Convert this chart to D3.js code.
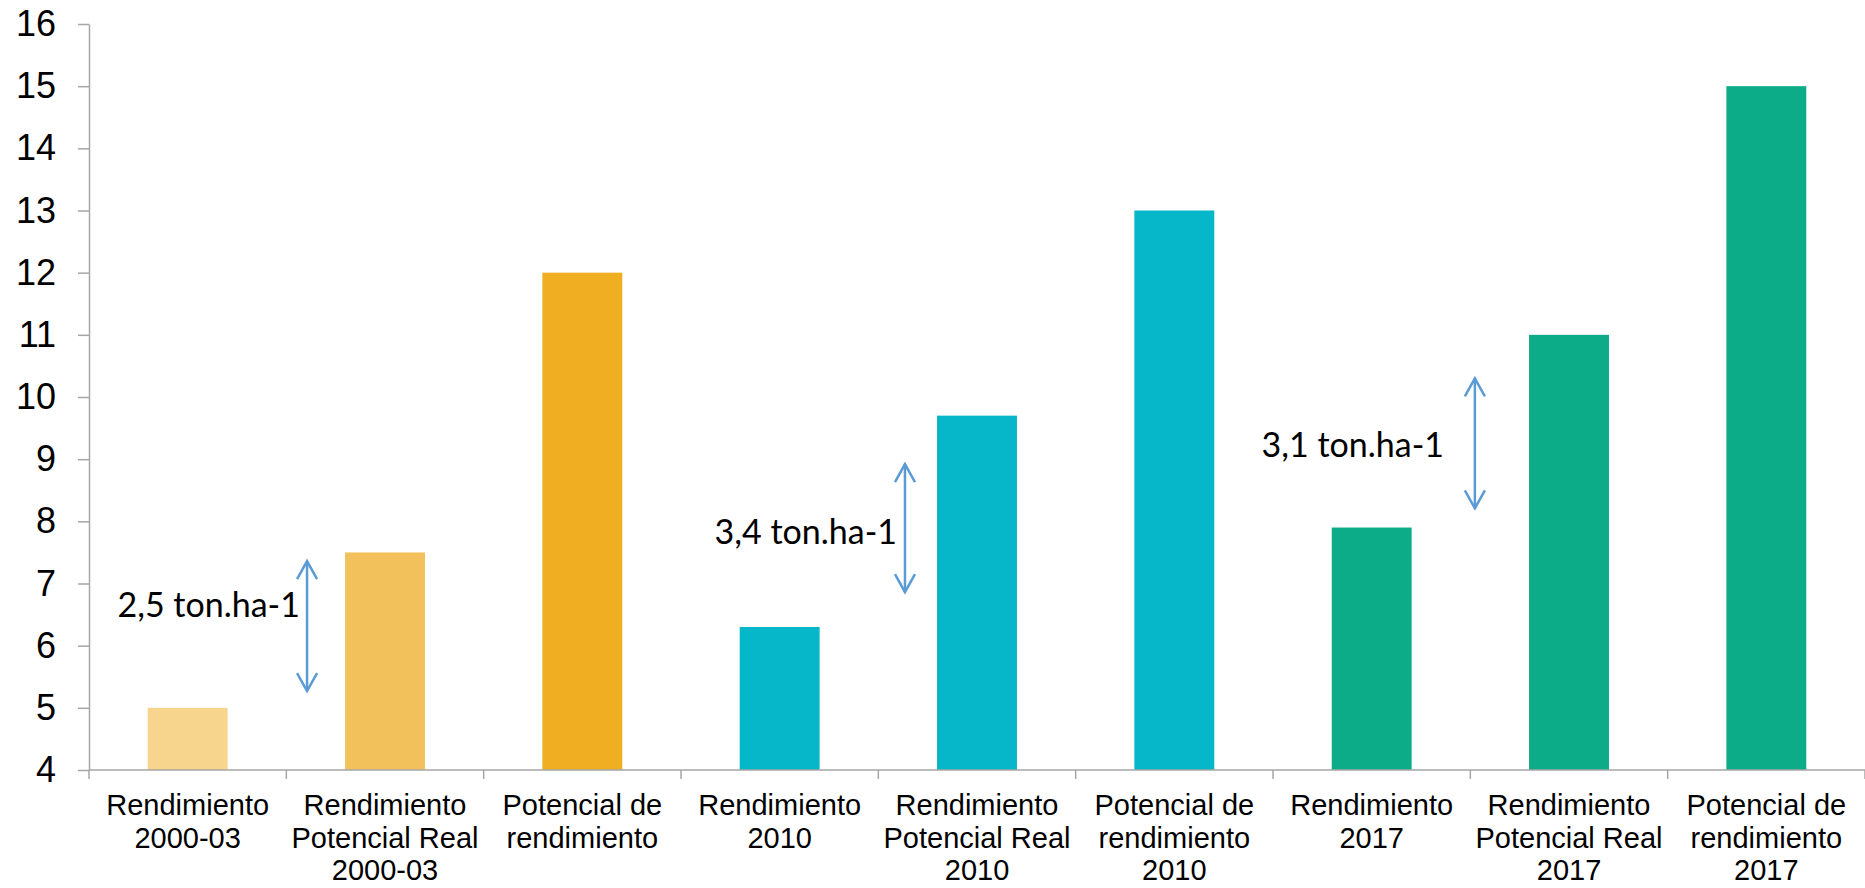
<!DOCTYPE html>
<html>
<head>
<meta charset="utf-8">
<script src="https://cdn.jsdelivr.net/npm/d3@7"></script>
<style>
  body { margin: 0; background: #fff; }
  svg { display: block; }
</style>
</head>
<body>
<div id="chart"></div>
<script>

// categories, split into label lines
var categories = [
	["Rendimiento", "2000-03"],
	["Rendimiento", "Potencial Real", "2000-03"],
	["Potencial de", "rendimiento"],
	["Rendimiento", "2010"],
	["Rendimiento", "Potencial Real", "2010"],
	["Potencial de", "rendimiento", "2010"],
	["Rendimiento", "2017"],
	["Rendimiento", "Potencial Real", "2017"],
	["Potencial de", "rendimiento", "2017"]
];

// ton/ha
var values = [5.0, 7.5, 12.0, 6.3, 9.7, 13.0, 7.9, 11.0, 15.0];

var barColors = ["#F7D58D", "#F3C15B", "#F0AE22",
                 "#06B6C9", "#06B6C9", "#06B6C9",
                 "#0DAC88", "#0DAC88", "#0DAC88"];

var yTicks = [4, 5, 6, 7, 8, 9, 10, 11, 12, 13, 14, 15, 16];

// gap annotations: text, arrow from/to (values), arrow position (band units), text end (band units), text baseline (value)
var gapLabels = ["2,5 ton.ha-1", "3,4 ton.ha-1", "3,1 ton.ha-1"];
var gapFrom   = [5.27, 6.86, 8.21];
var gapTo     = [7.36, 8.92, 10.30];
var gapPos    = [1.105, 4.135, 7.023];
var gapTextAt = [1.069, 4.095, 6.867];
var gapTextY  = [6.46, 7.64, 9.03];

var chartW = 1865,
	chartH = 888,
	padLeft = 89,
	padTop = 24,
	padBottom = 770;

var svg = d3.select("#chart").append("svg")
	.attr("width", chartW)
	.attr("height", chartH);

var x = d3.scaleBand()
	.domain(d3.range(categories.length))
	.range([padLeft, chartW]);

var bandPos = d3.scaleLinear()
	.domain([0, categories.length])
	.range([padLeft, chartW]);

var y = d3.scaleLinear()
	.domain([4, 16])
	.range([padBottom, padTop]);

var barW = x.bandwidth() * 0.405;

// bars
svg.selectAll("rect.bar")
	.data(values)
  .enter().append("rect")
	.attr("class", "bar")
	.attr("x", function(d, i) { return x(i) + (x.bandwidth() - barW) / 2; })
	.attr("y", function(d) { return y(d); })
	.attr("width", barW)
	.attr("height", function(d) { return y(4) - y(d); })
	.style("fill", function(d, i) { return barColors[i]; });

// y axis
var yAxis = svg.append("g")
	.attr("transform", "translate(" + padLeft + ",0)")
	.call(d3.axisLeft(y).tickValues(yTicks).tickSize(11).tickPadding(22).tickSizeOuter(0));

yAxis.select(".domain").attr("stroke", "#A6A6A6").attr("stroke-width", 1.5);
yAxis.selectAll(".tick line").attr("stroke", "#A6A6A6").attr("stroke-width", 1.5);
yAxis.selectAll(".tick text")
	.style("font-family", "'Liberation Sans', Arial, sans-serif")
	.style("font-size", "36px")
	.attr("fill", "#000");

// x axis line and band ticks
svg.append("line")
	.attr("x1", padLeft).attr("x2", chartW)
	.attr("y1", y(4)).attr("y2", y(4))
	.attr("stroke", "#A6A6A6").attr("stroke-width", 1.5);

svg.selectAll("line.xtick")
	.data(d3.range(categories.length + 1))
  .enter().append("line")
	.attr("class", "xtick")
	.attr("x1", function(d) { return bandPos(d); })
	.attr("x2", function(d) { return bandPos(d); })
	.attr("y1", y(4))
	.attr("y2", y(4) + 9)
	.attr("stroke", "#A6A6A6").attr("stroke-width", 1.5);

// category labels
var catText = svg.selectAll("text.cat")
	.data(categories)
  .enter().append("text")
	.attr("class", "cat")
	.attr("text-anchor", "middle")
	.style("font-family", "'Liberation Sans', Arial, sans-serif")
	.style("font-size", "29px")
	.attr("fill", "#000")
	.attr("transform", function(d, i) { return "translate(" + (x(i) + x.bandwidth() / 2) + "," + (y(4) + 45) + ")"; });

catText.selectAll("tspan")
	.data(function(d) { return d; })
  .enter().append("tspan")
	.attr("x", 0)
	.attr("y", function(d, j) { return j * 32.5; })
	.text(function(d) { return d; });

// gap arrows
var arrowColor = "#5B9BD5";
var gaps = svg.selectAll("g.gap")
	.data(gapLabels)
  .enter().append("g")
	.attr("class", "gap");

gaps.append("line")
	.attr("x1", function(d, i) { return bandPos(gapPos[i]); })
	.attr("x2", function(d, i) { return bandPos(gapPos[i]); })
	.attr("y1", function(d, i) { return y(gapTo[i]); })
	.attr("y2", function(d, i) { return y(gapFrom[i]); })
	.attr("stroke", arrowColor)
	.attr("stroke-width", 2.5);

gaps.append("path")
	.attr("d", function(d, i) {
		var cx = bandPos(gapPos[i]), t = y(gapTo[i]), b = y(gapFrom[i]);
		return "M" + (cx - 10) + "," + (t + 18) + "L" + cx + "," + t + "L" + (cx + 10) + "," + (t + 18) +
			"M" + (cx - 10) + "," + (b - 18) + "L" + cx + "," + b + "L" + (cx + 10) + "," + (b - 18);
	})
	.attr("fill", "none")
	.attr("stroke", arrowColor)
	.attr("stroke-width", 2.5);

gaps.append("text")
	.attr("x", function(d, i) { return bandPos(gapTextAt[i]); })
	.attr("y", function(d, i) { return y(gapTextY[i]); })
	.attr("text-anchor", "end")
	.style("font-family", "Lato, 'Open Sans', sans-serif")
	.style("font-size", "34px")
	.attr("fill", "#000")
	.text(function(d) { return d; });

</script>
</body>
</html>
